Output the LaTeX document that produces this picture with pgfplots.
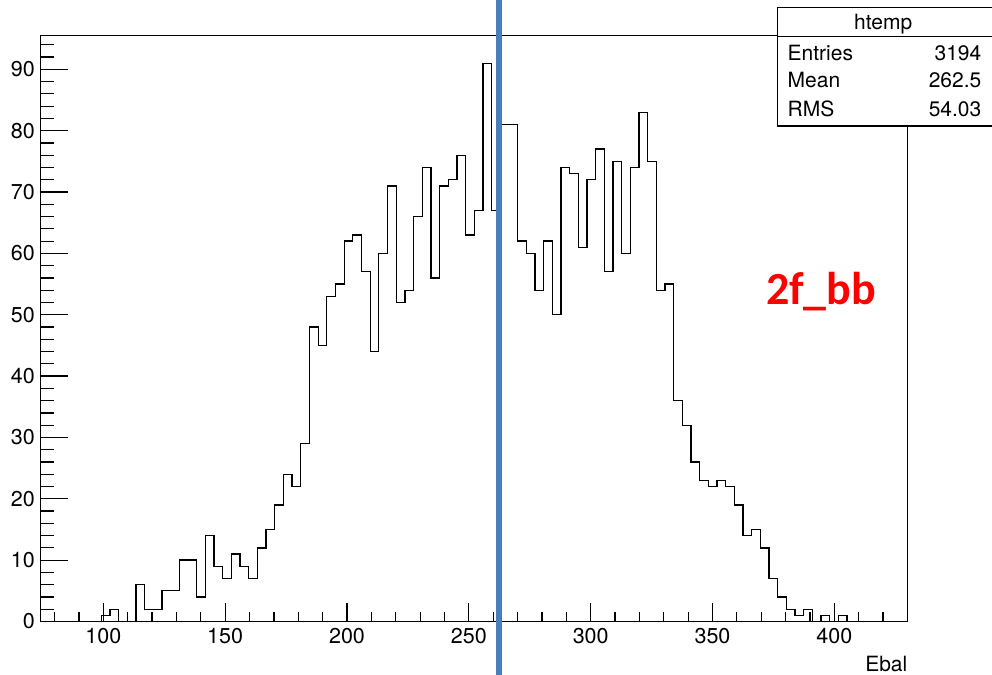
\documentclass[border=0pt]{standalone}
\usepackage{pgfplots}
\pgfplotsset{compat=1.18}
\usepackage{fontspec}
\setmainfont{TeX Gyre Heros}
\newfontfamily\carlito{Carlito}
\definecolor{markblue}{RGB}{74,126,187}
\definecolor{redtxt}{RGB}{255,0,0}
\begin{document}
\begin{tikzpicture}
\useasboundingbox (0,0) rectangle (496bp,337.5bp);
\begin{axis}[
  at={(20.35bp,26.75bp)}, anchor=south west,
  scale only axis, width=433.5bp, height=293.1bp,
  xmin=74.3, xmax=430.1, ymin=0, ymax=95.55,
  clip=false,
  axis line style={line width=0.65bp, black},
  xtick={100,150,...,400}, ytick={0,10,...,90},
  minor xtick={80,90,...,420}, minor ytick={0,2,...,94},
  xtick pos=bottom, ytick pos=left,
  tick align=inside,
  tick style={line width=0.6bp, black},
  xtick style={/pgfplots/major tick length=9.15bp},
  minor x tick style={/pgfplots/minor tick length=4.5bp},
  ytick style={/pgfplots/major tick length=13.85bp},
  minor y tick style={/pgfplots/minor tick length=6.85bp},
  /pgf/number format/assume math mode=true,
  /pgf/number format/1000 sep={},
  tick label style={font=\fontsize{10.75bp}{12bp}\selectfont},
  yticklabel style={xshift=0.6bp},
  xlabel={Ebal},
  xlabel style={at={(axis description cs:1,0)}, anchor=base east, inner sep=0pt, yshift=-25.1bp, font=\fontsize{10.5bp}{12bp}\selectfont},
]
\addplot[const plot mark left, line width=0.65bp, black, mark=none] coordinates {
(74.30,0) (77.86,0) (81.42,0) (84.97,0) (88.53,0) (92.09,0) (95.65,0)
(99.21,1) (102.76,2) (106.32,0) (109.88,0) (113.44,6) (116.99,2) (120.55,2)
(124.11,5) (127.67,5) (131.23,10) (134.79,10) (138.34,4) (141.90,14) (145.46,9)
(149.02,7) (152.58,11) (156.13,9) (159.69,7) (163.25,12) (166.81,15) (170.37,19)
(173.92,24) (177.48,22) (181.04,29) (184.60,48) (188.16,45) (191.71,53) (195.27,55)
(198.83,62) (202.39,63) (205.95,57) (209.50,44) (213.06,60) (216.62,71) (220.18,52)
(223.74,54) (227.29,66) (230.85,74) (234.41,56) (237.97,71) (241.53,72) (245.08,76)
(248.64,63) (252.20,67) (255.76,91) (259.32,67) (262.87,81) (266.43,81) (269.99,62)
(273.55,60) (277.11,54) (280.66,62) (284.22,50) (287.78,74) (291.34,73) (294.90,61)
(298.45,72) (302.01,77) (305.57,57) (309.13,75) (312.69,60) (316.24,74) (319.80,83)
(323.36,75) (326.92,54) (330.48,55) (334.03,36) (337.59,32) (341.15,26) (344.71,23)
(348.27,22) (351.82,23) (355.38,22) (358.94,19) (362.50,14) (366.06,15) (369.61,12)
(373.17,7) (376.73,4) (380.29,2) (383.85,1) (387.40,2) (390.96,0) (394.52,1)
(398.08,0) (401.64,1) (405.19,0) (408.75,0) (412.31,0) (415.87,0) (419.43,0)
(422.98,0) (426.54,0) (430.10,0)
};
\addplot[markblue, line width=2.85bp, mark=none] coordinates {(262.5,-9.5) (262.5,102)};
\end{axis}
% stats box
\fill[white] (388.65bp,274.5bp) rectangle (500bp,333.85bp);
\draw[line width=0.65bp, black] (500bp,333.85bp) -- (388.65bp,333.85bp) -- (388.65bp,274.5bp) -- (500bp,274.5bp);
\draw[line width=0.65bp, black] (388.65bp,319.15bp) -- (500bp,319.15bp);
\begin{scope}[every node/.style={inner sep=0pt, font=\fontsize{10.5bp}{12bp}\selectfont}]
\node[anchor=base] at (441.65bp,322.85bp) {htemp};
\node[anchor=base west] at (393.65bp,307.2bp) {Entries};
\node[anchor=base west] at (393.65bp,293.5bp) {Mean};
\node[anchor=base west] at (393.65bp,279.3bp) {RMS};
\node[anchor=base east] at (490.85bp,307.2bp) {3194};
\node[anchor=base east] at (490.85bp,293.5bp) {262.5};
\node[anchor=base east] at (490.85bp,279.3bp) {54.03};
\end{scope}
\node[anchor=base west, inner sep=0pt, text=redtxt, font=\carlito\bfseries\fontsize{23bp}{26bp}\selectfont] at (382.8bp,185bp) {2f\_bb};
\end{tikzpicture}
\end{document}
